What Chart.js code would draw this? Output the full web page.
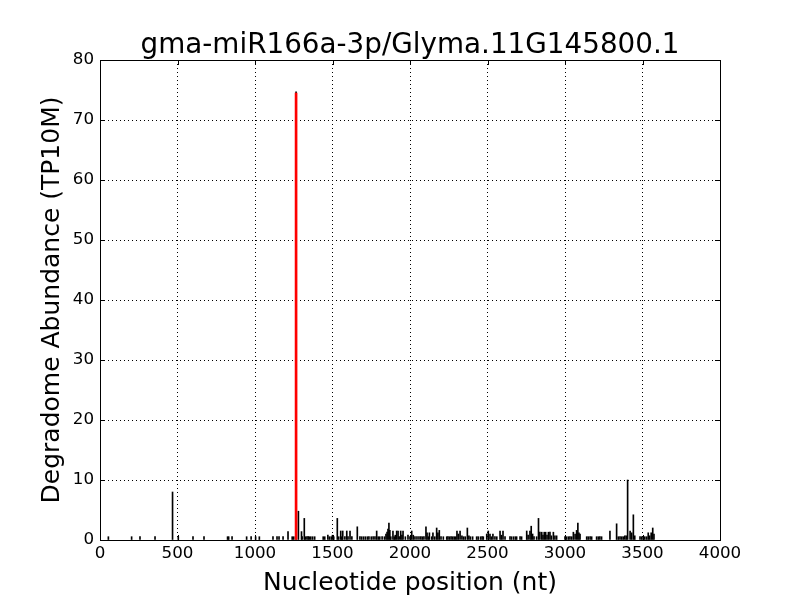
<!DOCTYPE html>
<html>
<head>
<meta charset="utf-8">
<script src="https://cdn.jsdelivr.net/npm/chart.js@4.4.0/dist/chart.umd.min.js"></script>
<style>
    html, body { margin: 0; padding: 0; background: #ffffff; }
    #grafico { display: block; }
</style>
</head>
<body>
<canvas id="grafico" width="800" height="600"></canvas>
<script>
// posições (nt) e abundâncias (TP10M)
const posicoes = [
    54, 204, 258, 355, 468, 505, 600, 671, 823, 830, 852, 946, 975, 1004, 1028,
    1116, 1142, 1155, 1181, 1213, 1240, 1250, 1265, 1280, 1300, 1304, 1318, 1324,
    1335, 1343, 1350, 1360, 1372, 1385, 1440, 1450, 1470, 1480, 1492, 1500, 1508,
    1531, 1540, 1553, 1560, 1566, 1580, 1592, 1600, 1613, 1625, 1660, 1677, 1688,
    1700, 1712, 1725, 1735, 1750, 1762, 1774, 1785, 1795, 1805, 1820, 1835, 1845,
    1852, 1858, 1864, 1870, 1876, 1890, 1898, 1905, 1914, 1923, 1930, 1940, 1948,
    1955, 1970, 1987, 2000, 2011, 2021, 2032, 2045, 2058, 2070, 2080, 2090, 2103,
    2110, 2118, 2125, 2140, 2148, 2160, 2172, 2180, 2189, 2200, 2215, 2237, 2245,
    2255, 2265, 2275, 2285, 2295, 2303, 2312, 2323, 2335, 2345, 2356, 2370, 2380,
    2390, 2404, 2430, 2440, 2455, 2465, 2473, 2495, 2505, 2516, 2525, 2535, 2548,
    2560, 2581, 2590, 2600, 2613, 2645, 2655, 2668, 2680, 2688, 2710, 2720, 2753,
    2762, 2774, 2782, 2791, 2800, 2817, 2829, 2838, 2850, 2858, 2866, 2875, 2884,
    2893, 2903, 2912, 2925, 2935, 2946, 3000, 3010, 3022, 3032, 3043, 3054, 3065,
    3075, 3083, 3090, 3097, 3140, 3150, 3162, 3172, 3204, 3215, 3225, 3236, 3290,
    3333, 3344, 3355, 3366, 3376, 3386, 3395, 3404, 3420, 3430, 3441, 3450, 3484,
    3495, 3505, 3515, 3527, 3537, 3546, 3556, 3566, 3574
];
const abundancias = [
    0.55, 0.55, 0.55, 0.55, 8.0, 0.55, 0.55, 0.55, 0.55, 0.55, 0.55, 0.55, 0.55, 0.55, 0.55,
    0.55, 0.55, 0.55, 0.55, 1.4, 0.55, 0.55, 74.7, 4.8, 1.4, 0.55, 3.6, 0.55,
    0.55, 0.55, 0.55, 0.55, 0.55, 0.55, 0.55, 0.55, 0.8, 0.55, 0.55, 0.8, 0.55,
    3.6, 0.55, 1.5, 0.55, 1.5, 0.55, 1.5, 0.55, 1.5, 0.55, 2.2, 0.55, 0.55,
    0.55, 0.55, 0.55, 0.55, 0.55, 0.55, 0.55, 1.5, 0.55, 0.55, 0.55, 0.55, 1.0,
    1.3, 1.8, 2.8, 1.6, 0.55, 1.5, 0.55, 0.8, 1.5, 1.5, 0.55, 1.5, 0.8,
    1.5, 0.55, 0.8, 0.55, 1.5, 0.8, 0.55, 0.55, 0.55, 0.55, 0.55, 0.55, 2.2,
    1.2, 0.55, 1.2, 0.55, 1.2, 0.55, 2.0, 1.2, 1.6, 0.55, 0.55, 0.55, 0.55,
    0.55, 0.55, 0.55, 0.55, 0.55, 1.5, 1.0, 1.5, 0.7, 0.55, 0.55, 2.0, 0.7,
    0.55, 0.55, 0.55, 0.55, 0.55, 0.55, 0.55, 1.0, 1.5, 1.0, 0.55, 1.0, 0.55,
    0.55, 1.5, 0.8, 1.5, 0.55, 0.55, 0.55, 0.55, 0.55, 0.55, 0.55, 0.55, 1.5,
    0.8, 1.5, 2.3, 1.0, 0.55, 0.55, 3.6, 1.3, 1.3, 0.8, 1.3, 1.3, 0.8,
    1.3, 1.3, 0.7, 1.3, 0.7, 0.7, 0.55, 0.55, 0.55, 0.55, 0.55, 1.3, 1.0,
    1.6, 2.8, 1.2, 1.0, 0.55, 0.55, 0.55, 0.55, 0.55, 0.55, 0.55, 0.55, 1.5,
    2.7, 0.55, 0.55, 0.55, 0.55, 0.7, 0.7, 10.0, 1.5, 1.2, 4.2, 0.7, 0.55,
    0.55, 0.55, 0.55, 0.55, 1.2, 0.7, 1.2, 2.0, 1.0
];

// sítio de clivagem do miRNA (em vermelho)
const alvoPosicao = [1265];
const alvoAbundancia = [74.5];

const ticksX = [0, 500, 1000, 1500, 2000, 2500, 3000, 3500, 4000];
const ticksY = [0, 10, 20, 30, 40, 50, 60, 70, 80];

const fonte = "'DejaVu Sans', sans-serif";

// moldura e ticks para dentro (estilo matplotlib clássico)
const molduraPlugin = {
    id: 'moldura',
    afterDraw(chart) {
        const { ctx, chartArea: a, scales } = chart;
        ctx.save();
        ctx.strokeStyle = '#000';
        ctx.lineWidth = 1;
        ctx.beginPath();
        ticksX.forEach(v => {
            const x = Math.round(scales.x.getPixelForValue(v)) + 0.5;
            ctx.moveTo(x, a.bottom); ctx.lineTo(x, a.bottom - 5);
            ctx.moveTo(x, a.top); ctx.lineTo(x, a.top + 5);
        });
        ticksY.forEach(v => {
            const y = Math.round(scales.y.getPixelForValue(v)) + 0.5;
            ctx.moveTo(a.left, y); ctx.lineTo(a.left + 5, y);
            ctx.moveTo(a.right, y); ctx.lineTo(a.right - 5, y);
        });
        ctx.stroke();
        ctx.strokeRect(Math.round(a.left) + 0.5, Math.round(a.top) + 0.5,
            Math.round(a.right - a.left), Math.round(a.bottom - a.top));
        ctx.restore();
    }
};

function montarDados(xs, ys) {
    return xs.map((x, i) => ({ x: x, y: ys[i] }));
}

const ctx = document.getElementById('grafico');

new Chart(ctx, {
    type: 'bar',
    data: {
        datasets: [
            {
                label: 'alvo',
                data: montarDados(alvoPosicao, alvoAbundancia),
                backgroundColor: '#ff0000',
                barThickness: 2,
                grouped: false
            },
            {
                label: 'leituras',
                data: montarDados(posicoes, abundancias),
                backgroundColor: '#000000',
                barThickness: 1,
                grouped: false
            }
        ]
    },
    options: {
        responsive: false,
        animation: false,
        layout: { padding: { left: 0, right: 80, top: 0, bottom: 0 } },
        plugins: {
            legend: { display: false },
            tooltip: { enabled: false },
            title: {
                display: true,
                fullSize: false,
                text: 'gma-miR166a-3p/Glyma.11G145800.1',
                color: '#000',
                font: { family: fonte, size: 27.8, weight: 'normal', lineHeight: 1 },
                padding: { top: 32.2, bottom: 0 }
            }
        },
        scales: {
            x: {
                type: 'linear',
                min: 0,
                max: 4000,
                offset: false,
                afterFit: s => { s.height = 60; },
                afterBuildTicks: s => { s.ticks = ticksX.map(v => ({ value: v })); },
                ticks: {
                    color: '#000',
                    font: { family: fonte, size: 16.7 },
                    padding: 4,
                    maxRotation: 0,
                    callback: v => String(v)
                },
                grid: { color: '#000', lineWidth: 1, drawTicks: false, offset: false },
                border: { display: false, dash: [1, 3] },
                title: {
                    display: true,
                    text: 'Nucleotide position (nt)',
                    color: '#000',
                    font: { family: fonte, size: 25 },
                    padding: { top: 0, bottom: 2 }
                }
            },
            y: {
                min: 0,
                max: 80,
                afterFit: s => { s.width = 100; },
                afterBuildTicks: s => { s.ticks = ticksY.map(v => ({ value: v })); },
                ticks: { color: '#000', font: { family: fonte, size: 16.7 }, padding: 6 },
                grid: { color: '#000', lineWidth: 1, drawTicks: false },
                border: { display: false, dash: [1, 3] },
                title: {
                    display: true,
                    text: 'Degradome Abundance (TP10M)',
                    color: '#000',
                    font: { family: fonte, size: 25 },
                    padding: { top: 37, bottom: 0 }
                }
            }
        }
    },
    plugins: [molduraPlugin]
});
</script>
</body>
</html>
